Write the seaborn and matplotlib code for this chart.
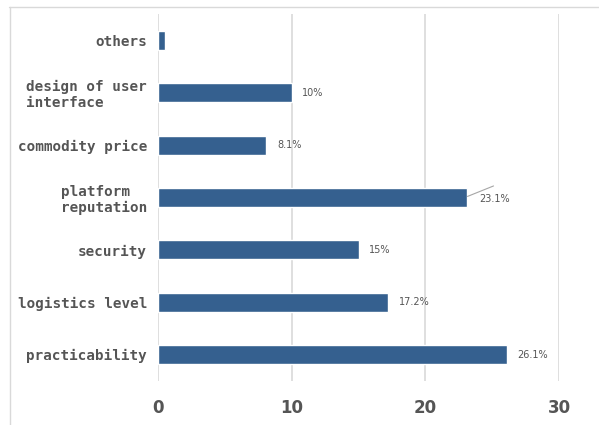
import matplotlib
matplotlib.use("Agg")
import matplotlib.pyplot as plt
import seaborn as sns
import pandas as pd
from matplotlib.lines import Line2D

categories = ["others", "design of user\ninterface", "commodity price", "platform\nreputation",
              "security", "logistics level", "practicability"]
values = [0.5, 10, 8.1, 23.1, 15, 17.2, 26.1]
value_labels = ["", "10%", "8.1%", "23.1%", "15%", "17.2%", "26.1%"]
x_ticks = [0, 10, 20, 30]

sns.set_theme(style="white")
df = pd.DataFrame({"factor": categories, "value": values})

fig = plt.figure(figsize=(5.99, 4.25), dpi=100)
ax = fig.add_axes([158/599, 1 - 381/425, (559-158)/599, (381-14)/425])

sns.barplot(data=df, y="factor", x="value", orient="h", color="#35608F",
            saturation=1, width=0.36, ax=ax, zorder=3)

ax.set_xlim(0, 30)
ax.set_ylim(6.5, -0.5)
ax.set_xticks(x_ticks)
ax.set_xticklabels([str(t) for t in x_ticks], fontsize=12, fontweight="bold",
                   color="#555555", fontfamily="DejaVu Sans")
ax.tick_params(axis="x", length=0, pad=13)
ax.tick_params(axis="y", length=0, pad=8)
for lab in ax.get_yticklabels():
    lab.set_fontfamily("DejaVu Sans Mono")
    lab.set_fontweight("bold")
    lab.set_fontsize(10.3)
    lab.set_color("#555555")
    lab.set_horizontalalignment("right")
    lab.set_multialignment("left")
ax.set_xlabel("")
ax.set_ylabel("")
for s in ax.spines.values():
    s.set_visible(False)
ax.grid(False)
for t in x_ticks:
    ax.axvline(t, color="#d9d9d9", lw=1.2, zorder=1)

for i, (v, lab) in enumerate(zip(values, value_labels)):
    if not lab:
        continue
    if lab == "23.1%":
        ax.text(v + 0.9, i + 0.03, lab, va="center", ha="left", fontsize=7, color="#555555")
        ax.plot([v + 0.05, v + 2.0], [i - 0.02, i - 0.22], color="#a6a6a6", lw=0.8, zorder=4)
    else:
        ax.text(v + 0.8, i, lab, va="center", ha="left", fontsize=7, color="#555555")

# outer frame lines
fig.add_artist(Line2D([9/599, 1], [1 - 7/425, 1 - 7/425], color="#d9d9d9", lw=1))
fig.add_artist(Line2D([10/599, 10/599], [0, 1 - 7/425], color="#d9d9d9", lw=1))

fig.savefig("out.png", dpi=100)
